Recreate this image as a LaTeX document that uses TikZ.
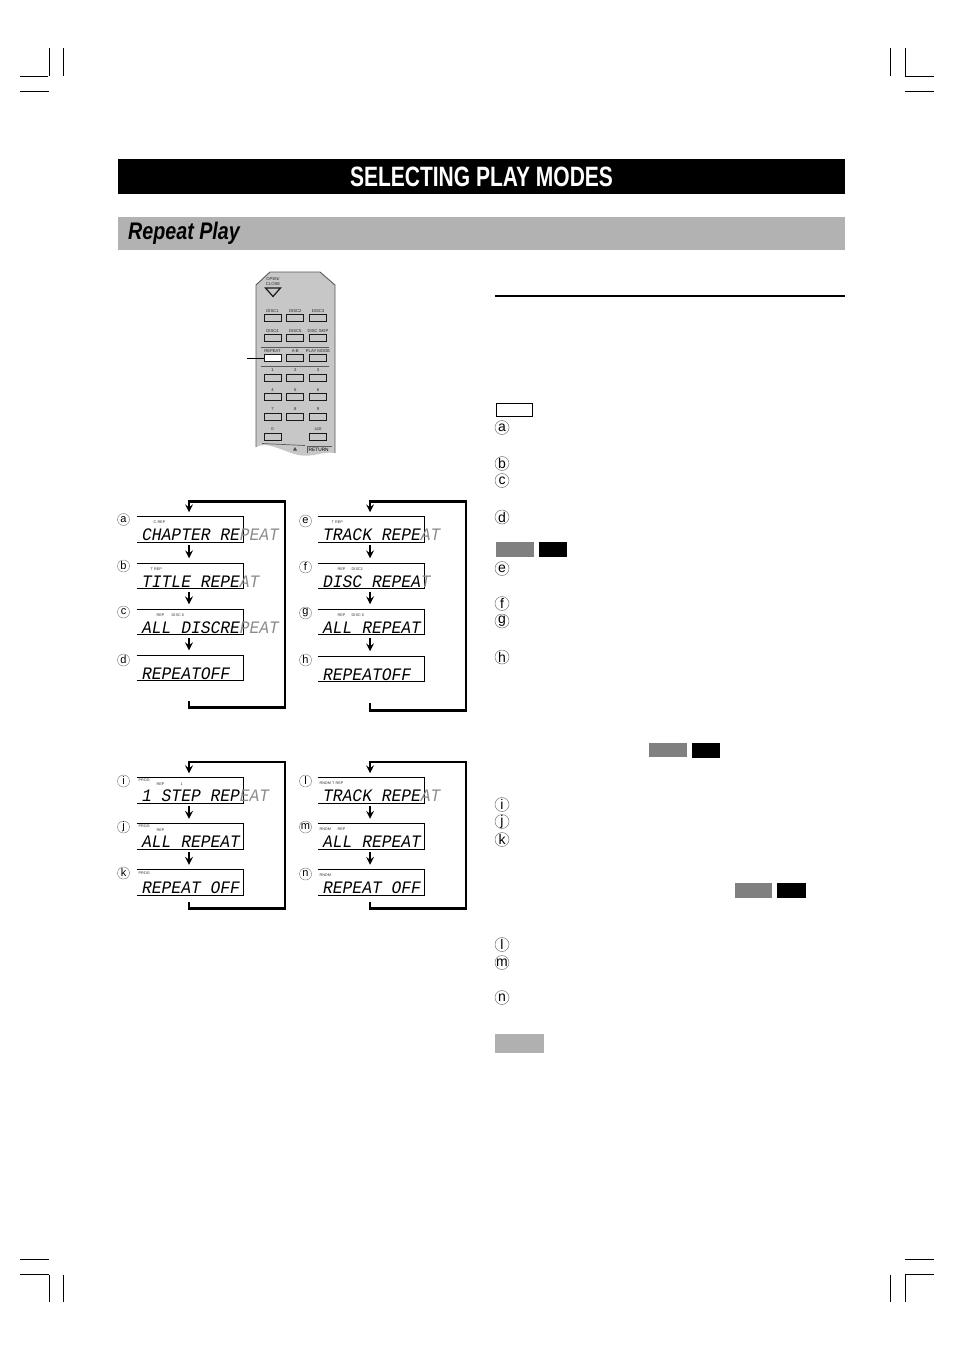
\documentclass[tikz,border=0pt]{standalone}
\usepackage{fontspec}
\usepackage{xcolor}
\usetikzlibrary{positioning,calc}
\setmainfont{Liberation Sans}
\newfontfamily\headfont[FakeStretch=0.75]{Liberation Sans}
\newfontfamily\subheadfont[FakeStretch=0.82]{Liberation Sans}
\newfontfamily\lcdfont[FakeStretch=0.93]{Liberation Mono}
\newcommand{\ghost}[1]{\textcolor{black!45}{#1}}
\newcommand{\tightgap}{ \kern-0.56em }

\begin{document}
\begin{tikzpicture}[
    x=1pt, y=-1pt,
    lcdbox/.style={rectangle, minimum width=107pt, minimum height=25.5pt, inner sep=0pt, outer sep=0pt},
    lcdline/.style={line width=0.8pt},
    lcdtext/.style={anchor=base west, inner sep=0pt, font=\lcdfont\itshape\fontsize{17.5}{18}\selectfont},
    lcdtag/.style={anchor=west, inner sep=0pt, text=black!80, font=\fontsize{3.8}{4}\selectfont},
    arrow/.style={->, >=stealth, line width=2.4pt, shorten <=3pt, shorten >=5pt},
    looparrow/.style={->, >=stealth, line width=2.4pt, line join=miter},
    lettersmall/.style={circle, draw=black!55, line width=0.4pt, minimum size=12pt, inner sep=0pt, font=\fontsize{11}{11}\selectfont},
    letterbig/.style={circle, draw=black!55, line width=0.5pt, minimum size=14pt, inner sep=0pt, font=\fontsize{14}{14}\selectfont},
    crop/.style={line width=0.9pt},
    swatch/.style={rectangle, inner sep=0pt, outer sep=0pt, minimum height=15pt},
    btn/.style={rectangle, draw=black!90, line width=1pt, fill=black!22, minimum width=17pt, minimum height=7pt, inner sep=0pt},
    btntag/.style={inner sep=0pt, text=black!85, font=\fontsize{4.2}{4.6}\selectfont, align=center},
]
\useasboundingbox (0,0) rectangle (954,1351);

% Crop marks
\draw[crop] (20,76.5) -- (48,76.5);
\draw[crop] (20,91.5) -- (49,91.5);
\draw[crop] (49.5,48) -- (49.5,76.5);
\draw[crop] (63.5,48) -- (63.5,76.5);
\draw[crop] (905,76.5) -- (934,76.5);
\draw[crop] (905,91.5) -- (934,91.5);
\draw[crop] (905,48) -- (905,76.5);
\draw[crop] (890,48) -- (890,76.5);
\draw[crop] (20,1259.5) -- (49,1259.5);
\draw[crop] (20,1274.5) -- (49,1274.5);
\draw[crop] (49.5,1274.5) -- (49.5,1302);
\draw[crop] (63.5,1274.5) -- (63.5,1302);
\draw[crop] (905,1259.5) -- (934,1259.5);
\draw[crop] (905,1274.5) -- (934,1274.5);
\draw[crop] (905,1274.5) -- (905,1302);
\draw[crop] (890,1274.5) -- (890,1302);

% Title bars
\node[rectangle, fill=black, minimum width=727pt, minimum height=35pt, inner sep=0pt, text=white, font=\headfont\bfseries\fontsize{28}{28}\selectfont] (title) at (481.5,176.5) {SELECTING PLAY MODES};
\node[rectangle, fill=black!30, minimum width=727pt, minimum height=33pt, inner sep=0pt] (subtitle) at (481.5,233.5) {};
\node[anchor=west, inner sep=0pt, font=\subheadfont\bfseries\itshape\fontsize{24}{24}\selectfont] (subtitletext) at (128,233.5) {Repeat Play};
\draw[line width=2pt] (495,296) -- (845,296);

% Remote control
\fill[black!22] (270,272) -- (320,272) -- (335,285) -- (335,453) .. controls (322,451) and (312,458) .. (298,455) .. controls (282,451) and (268,441) .. (256,447) -- (256,285) -- cycle;
\draw[black!65, line width=0.9pt] (256,447) -- (256,285) -- (270,272) -- (320,272) -- (335,285) -- (335,453);
\node[btntag] (openlabel) at (273,281.5) {OPEN/\\[-0.5pt]CLOSE};
\draw[black!90, line width=1.2pt] (265.5,288) -- (280.5,288) -- (273,296.5) -- cycle;

\node[btn, label={[btntag, label distance=1.5pt]above:DISC1}] (disc1) at (272.5,318) {};
\node[btn, right=4.75pt of disc1, label={[btntag, label distance=1.5pt]above:DISC2}] (disc2) {};
\node[btn, right=4.75pt of disc2, label={[btntag, label distance=1.5pt]above:DISC3}] (disc3) {};
\node[btn, label={[btntag, label distance=1.5pt]above:DISC4}] (disc4) at (272.5,338) {};
\node[btn, right=4.75pt of disc4, label={[btntag, label distance=1.5pt]above:DISC5}] (disc5) {};
\node[btn, right=4.75pt of disc5, label={[btntag, label distance=1.5pt]above:DISC SKIP}] (discskip) {};
\node[btn, fill=white, label={[btntag, label distance=1.5pt]above:REPEAT}] (repeat) at (272.5,358) {};
\node[btn, right=4.75pt of repeat, label={[btntag, label distance=1.5pt]above:A-B}] (ab) {};
\node[btn, right=4.75pt of ab, label={[btntag, label distance=1.5pt]above:PLAY MODE}] (playmode) {};
\node[btn, label={[btntag, label distance=1.5pt]above:1}] (num1) at (272.5,377.5) {};
\node[btn, right=4.75pt of num1, label={[btntag, label distance=1.5pt]above:2}] (num2) {};
\node[btn, right=4.75pt of num2, label={[btntag, label distance=1.5pt]above:3}] (num3) {};
\node[btn, label={[btntag, label distance=1.5pt]above:4}] (num4) at (272.5,397) {};
\node[btn, right=4.75pt of num4, label={[btntag, label distance=1.5pt]above:5}] (num5) {};
\node[btn, right=4.75pt of num5, label={[btntag, label distance=1.5pt]above:6}] (num6) {};
\node[btn, label={[btntag, label distance=1.5pt]above:7}] (num7) at (272.5,416.5) {};
\node[btn, right=4.75pt of num7, label={[btntag, label distance=1.5pt]above:8}] (num8) {};
\node[btn, right=4.75pt of num8, label={[btntag, label distance=1.5pt]above:9}] (num9) {};
\node[btn, label={[btntag, label distance=1.5pt]above:0}] (num0) at (272.5,436.5) {};
\node[btn, label={[btntag, label distance=1.5pt]above:{≥10}}] (num10) at (318,436.5) {};
\node[btntag, anchor=west, text=black, font=\fontsize{4.8}{5}\selectfont] (returnlabel) at (308.5,450) {RETURN};

\draw[black!65, line width=0.7pt] (261,347) -- (329,347);
\draw[black!65, line width=0.7pt] (261,366.5) -- (329,366.5);
\draw[black!65, line width=0.7pt] (262,443.5) -- (305,445.5);
\draw[black!65, line width=0.7pt] (307,453) -- (307,446) -- (332,446);
\fill[black!70] (293,450.5) -- (297,450.5) -- (295,447) -- cycle;

\coordinate (leader) at (247,358);
\draw[line width=0.9pt] (leader) -- (repeat.west);

% Displays, first column
\node[lcdbox] (lcda) at (190,529.5) {};
\node[lcdbox, below=21pt of lcda] (lcdb) {};
\node[lcdbox, below=20.5pt of lcdb] (lcdc) {};
\node[lcdbox, below=20.5pt of lcdc] (lcdd) {};

% Displays, second column
\node[lcdbox] (lcde) at (371,529.5) {};
\node[lcdbox, below=21pt of lcde] (lcdf) {};
\node[lcdbox, below=20.5pt of lcdf] (lcdg) {};
\node[lcdbox, below=21.5pt of lcdg] (lcdh) {};

% Displays, lower row
\node[lcdbox] (lcdi) at (190,790.5) {};
\node[lcdbox, below=20.5pt of lcdi] (lcdj) {};
\node[lcdbox, below=20.5pt of lcdj] (lcdk) {};
\node[lcdbox] (lcdl) at (371,790.5) {};
\node[lcdbox, below=20.5pt of lcdl] (lcdm) {};
\node[lcdbox, below=20.5pt of lcdm] (lcdn) {};

% Display outlines
\draw[lcdline] (lcda.north west) -- (lcda.north east) -- (lcda.south east) -- (lcda.south west);
\draw[lcdline] (lcdb.north west) -- (lcdb.north east) -- (lcdb.south east) -- (lcdb.south west);
\draw[lcdline] (lcdc.north west) -- (lcdc.north east) -- (lcdc.south east) -- (lcdc.south west);
\draw[lcdline] (lcdd.north west) -- (lcdd.north east) -- (lcdd.south east) -- (lcdd.south west);
\draw[lcdline] (lcde.north west) -- (lcde.north east) -- (lcde.south east) -- (lcde.south west);
\draw[lcdline] (lcdf.north west) -- (lcdf.north east) -- (lcdf.south east) -- (lcdf.south west);
\draw[lcdline] (lcdg.north west) -- (lcdg.north east) -- (lcdg.south east) -- (lcdg.south west);
\draw[lcdline] (lcdh.north west) -- (lcdh.north east) -- (lcdh.south east) -- (lcdh.south west);
\draw[lcdline] (lcdi.north west) -- (lcdi.north east) -- (lcdi.south east) -- (lcdi.south west);
\draw[lcdline] (lcdj.north west) -- (lcdj.north east) -- (lcdj.south east) -- (lcdj.south west);
\draw[lcdline] (lcdk.north west) -- (lcdk.north east) -- (lcdk.south east) -- (lcdk.south west);
\draw[lcdline] (lcdl.north west) -- (lcdl.north east) -- (lcdl.south east) -- (lcdl.south west);
\draw[lcdline] (lcdm.north west) -- (lcdm.north east) -- (lcdm.south east) -- (lcdm.south west);
\draw[lcdline] (lcdn.north west) -- (lcdn.north east) -- (lcdn.south east) -- (lcdn.south west);

% Display texts
\node[lcdtext] (txta) at ([xshift=5.5pt,yshift=1.5pt]lcda.south west) {CHAPTER RE\ghost{PEAT}};
\node[lcdtext] (txtb) at ([xshift=5.5pt,yshift=1.5pt]lcdb.south west) {TITLE REPE\ghost{AT}};
\node[lcdtext] (txtc) at ([xshift=5.5pt,yshift=1.5pt]lcdc.south west) {ALL DISC\tightgap RE\ghost{PEAT}};
\node[lcdtext] (txtd) at ([xshift=5.5pt,yshift=1.5pt]lcdd.south west) {REPEAT\tightgap OFF};
\node[lcdtext] (txte) at ([xshift=5.5pt,yshift=1.5pt]lcde.south west) {TRACK REPE\ghost{AT}};
\node[lcdtext] (txtf) at ([xshift=5.5pt,yshift=1.5pt]lcdf.south west) {DISC REPEA\ghost{T}};
\node[lcdtext] (txtg) at ([xshift=5.5pt,yshift=1.5pt]lcdg.south west) {ALL REPEAT};
\node[lcdtext] (txth) at ([xshift=5.5pt,yshift=1.5pt]lcdh.south west) {REPEAT\tightgap OFF};
\node[lcdtext] (txti) at ([xshift=5.5pt,yshift=1.5pt]lcdi.south west) {1 STEP REP\ghost{EAT}};
\node[lcdtext] (txtj) at ([xshift=5.5pt,yshift=1.5pt]lcdj.south west) {ALL REPEAT};
\node[lcdtext] (txtk) at ([xshift=5.5pt,yshift=1.5pt]lcdk.south west) {REPEAT OFF};
\node[lcdtext] (txtl) at ([xshift=5.5pt,yshift=1.5pt]lcdl.south west) {TRACK REPE\ghost{AT}};
\node[lcdtext] (txtm) at ([xshift=5.5pt,yshift=1.5pt]lcdm.south west) {ALL REPEAT};
\node[lcdtext] (txtn) at ([xshift=5.5pt,yshift=1.5pt]lcdn.south west) {REPEAT OFF};

% Display tags
\node[lcdtag] (tag1) at ([xshift=17pt,yshift=-5.5pt]lcda.north west) {C.REP};
\node[lcdtag] (tag2) at ([xshift=14pt,yshift=-5.5pt]lcdb.north west) {T REP};
\node[lcdtag] (tag3) at ([xshift=20pt,yshift=-5.5pt]lcdc.north west) {REP};
\node[lcdtag] (tag4) at ([xshift=35pt,yshift=-5.5pt]lcdc.north west) {DISC 6};
\node[lcdtag] (tag5) at ([xshift=14pt,yshift=-5.5pt]lcde.north west) {T REP};
\node[lcdtag] (tag6) at ([xshift=20pt,yshift=-5.5pt]lcdf.north west) {REP};
\node[lcdtag] (tag7) at ([xshift=34pt,yshift=-5.5pt]lcdf.north west) {DISC1};
\node[lcdtag] (tag8) at ([xshift=20pt,yshift=-5.5pt]lcdg.north west) {REP};
\node[lcdtag] (tag9) at ([xshift=34pt,yshift=-5.5pt]lcdg.north west) {DISC 6};
\node[lcdtag] (tag10) at ([xshift=2pt,yshift=-2pt]lcdi.north west) {PROG};
\node[lcdtag] (tag11) at ([xshift=20pt,yshift=-6.5pt]lcdi.north west) {REP};
\node[lcdtag] (tag12) at ([xshift=44pt,yshift=-6.5pt]lcdi.north west) {1};
\node[lcdtag] (tag13) at ([xshift=2pt,yshift=-2pt]lcdj.north west) {PROG};
\node[lcdtag] (tag14) at ([xshift=20pt,yshift=-6.5pt]lcdj.north west) {REP};
\node[lcdtag] (tag15) at ([xshift=2pt,yshift=-3.5pt]lcdk.north west) {PROG};
\node[lcdtag] (tag16) at ([xshift=2pt,yshift=-5.5pt]lcdl.north west) {RNDM T REP};
\node[lcdtag] (tag17) at ([xshift=2pt,yshift=-5.5pt]lcdm.north west) {RNDM};
\node[lcdtag] (tag18) at ([xshift=20pt,yshift=-5.5pt]lcdm.north west) {REP};
\node[lcdtag] (tag19) at ([xshift=2pt,yshift=-5.5pt]lcdn.north west) {RNDM};

% Arrows
\draw[arrow] ([xshift=-1pt]lcda.south) -- ([xshift=-1pt]lcdb.north);
\draw[arrow] ([xshift=-1pt]lcdb.south) -- ([xshift=-1pt]lcdc.north);
\draw[arrow] ([xshift=-1pt]lcdc.south) -- ([xshift=-1pt]lcdd.north);
\draw[arrow] ([xshift=-1pt]lcde.south) -- ([xshift=-1pt]lcdf.north);
\draw[arrow] ([xshift=-1pt]lcdf.south) -- ([xshift=-1pt]lcdg.north);
\draw[arrow] ([xshift=-1pt]lcdg.south) -- ([xshift=-1pt]lcdh.north);
\draw[arrow] ([xshift=-1pt]lcdi.south) -- ([xshift=-1pt]lcdj.north);
\draw[arrow] ([xshift=-1pt]lcdj.south) -- ([xshift=-1pt]lcdk.north);
\draw[arrow] ([xshift=-1pt]lcdl.south) -- ([xshift=-1pt]lcdm.north);
\draw[arrow] ([xshift=-1pt]lcdm.south) -- ([xshift=-1pt]lcdn.north);

% Return loops
\coordinate (backa) at (189,701);
\coordinate (backe) at (370,703);
\coordinate (backi) at (189,902);
\coordinate (backl) at (370,902);
\draw[looparrow] (backa) |- (285,707.5) -- (285,501.5) -- (189,501.5) -- ([xshift=-1pt,yshift=4.5pt]lcda.north);
\draw[looparrow] (backe) |- (466,710.5) -- (466,501.5) -- (370,501.5) -- ([xshift=-1pt,yshift=4.5pt]lcde.north);
\draw[looparrow] (backi) |- (285,908.5) -- (285,762) -- (189,762) -- ([xshift=-1pt,yshift=4.5pt]lcdi.north);
\draw[looparrow] (backl) |- (466,908.5) -- (466,762) -- (370,762) -- ([xshift=-1pt,yshift=4.5pt]lcdl.north);

% Letters beside the displays
\node[lettersmall] (marka) at (123.5,519.5) {a};
\node[lettersmall] (markb) at (123.5,566) {b};
\node[lettersmall] (markc) at (123.5,612) {c};
\node[lettersmall] (markd) at (123.5,660) {d};
\node[lettersmall] (marke) at (305.5,521) {e};
\node[lettersmall] (markf) at (305.5,567) {f};
\node[lettersmall] (markg) at (305.5,613) {g};
\node[lettersmall] (markh) at (305.5,660) {h};
\node[lettersmall] (marki) at (123.5,781) {i};
\node[lettersmall] (markj) at (123.5,827) {j};
\node[lettersmall] (markk) at (123.5,873) {k};
\node[lettersmall] (markl) at (305.5,781) {l};
\node[lettersmall] (markm) at (305.5,827) {m};
\node[lettersmall] (markn) at (305.5,874) {n};

% Letters in the right column
\node[letterbig] (lista) at (502,427.5) {a};
\node[letterbig] (listb) at (502,463.5) {b};
\node[letterbig] (listc) at (502,480.5) {c};
\node[letterbig] (listd) at (502,517) {d};
\node[letterbig] (liste) at (502,568.5) {e};
\node[letterbig] (listf) at (502,603.5) {f};
\node[letterbig] (listg) at (502,621) {g};
\node[letterbig] (listh) at (502,657) {h};
\node[letterbig] (listi) at (502,804.5) {i};
\node[letterbig] (listj) at (502,821.5) {j};
\node[letterbig] (listk) at (502,839.5) {k};
\node[letterbig] (listl) at (502,944.5) {l};
\node[letterbig] (listm) at (502,962.5) {m};
\node[letterbig] (listn) at (502,997.5) {n};

% Swatches
\node[swatch, draw=black, line width=0.9pt, minimum width=36.5pt, minimum height=13pt] (white1) at (514.5,410) {};
\node[swatch, fill=black!50, minimum width=38pt] (gray1) at (515,549.5) {};
\node[swatch, fill=black, minimum width=28pt] (black1) at (553,549.5) {};
\node[swatch, fill=black!50, minimum width=38pt, minimum height=14pt] (gray2) at (668,750) {};
\node[swatch, fill=black, minimum width=28pt] (black2) at (706,750.5) {};
\node[swatch, fill=black!50, minimum width=37pt] (gray3) at (753.5,890.5) {};
\node[swatch, fill=black, minimum width=29pt] (black3) at (791.5,890.5) {};
\node[swatch, fill=black!31, minimum width=49pt, minimum height=19pt] (note) at (519.5,1043.5) {};

\end{tikzpicture}
\end{document}
